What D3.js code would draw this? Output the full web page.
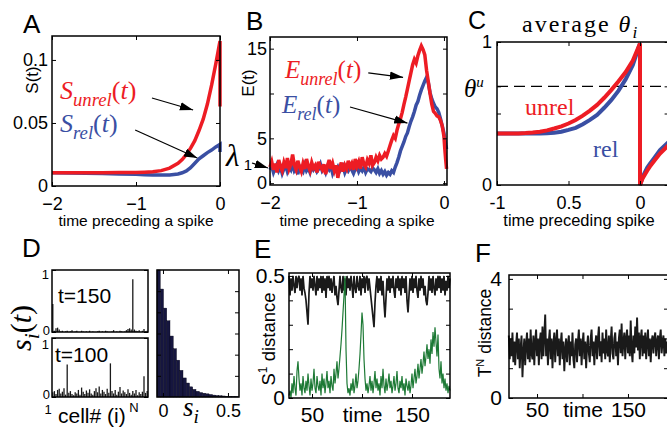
<!DOCTYPE html>
<html>
<head>
<meta charset="utf-8">
<script src="https://cdn.jsdelivr.net/npm/d3@7"></script>
<style>
body{margin:0;background:#fff;}
.math{font-family:"Liberation Serif","Times New Roman",serif;}
</style>
</head>
<body>
<div id="fig"></div>
<script>
// ---- panel A : S(t) ----
var aTime  = [-2,-1.8,-1.6,-1.4,-1.2,-1.0,-0.9,-0.8,-0.7,-0.6,-0.5,-0.45,-0.4,-0.35,-0.3,-0.25,-0.2,-0.15,-0.1,-0.05,0,0];
var aUnrel = [0.0105,0.0105,0.0106,0.0106,0.0107,0.0108,0.011,0.0113,0.0122,0.0142,0.018,0.021,0.025,0.030,0.036,0.044,0.053,0.065,0.080,0.097,0.115,0.063];
var aRel   = [0.0105,0.0103,0.0101,0.0099,0.0096,0.0093,0.009,0.0088,0.0087,0.0088,0.0095,0.0105,0.012,0.0145,0.018,0.0215,0.024,0.0265,0.0285,0.031,0.033,0.027];

// ---- panel B : E(t), sampled every 0.02 from -2 to 0, then 0.01..0.03 ----
var bExtraTime = [0.01,0.02,0.03];
var bUnrel = [1.8,2.4,1.5,2.2,1.2,2.6,1.9,1.4,2.3,1.7,
  2.8,1.6,2.1,3.2,2.0,1.5,2.5,1.8,1.3,2.2,
  1.6,2.7,1.9,1.4,2.3,1.7,2.0,1.2,2.4,1.8,
  1.5,2.1,1.0,1.9,2.6,1.6,2.2,1.4,2.0,0.6,
  1.7,2.3,1.3,2.0,1.6,2.5,1.8,2.2,1.5,2.7,
  1.9,2.4,1.6,2.9,2.1,1.8,2.6,2.2,3.1,2.0,
  2.3,2.9,2.5,3.1,2.7,2.9,3.3,3.0,3.6,4.2,
  4.8,5.3,5.0,5.9,6.6,7.2,7.9,8.8,9.6,10.5,
  11.4,12.3,13.2,13.8,13.4,14.2,14.8,15.3,14.9,14.3,
  12.6,11.3,10.0,8.8,8.0,7.8,7.5,7.4,7.0,6.4,
  5.2,3.8,2.6,1.6];
var bRel = [1.5,1.9,1.2,1.7,2.1,1.4,1.8,1.1,1.6,2.0,
  1.3,1.8,1.5,2.2,1.4,1.7,1.0,1.9,1.6,1.3,
  2.0,1.4,1.7,1.2,1.9,1.5,1.8,1.3,1.6,2.1,
  1.4,1.7,1.2,1.8,1.5,1.9,1.1,1.6,1.4,1.8,
  1.3,1.6,1.9,1.2,1.7,1.4,1.8,1.5,1.1,1.6,
  1.9,1.3,1.7,1.4,1.8,1.2,1.6,1.5,1.3,1.7,
  1.5,1.2,1.6,1.1,1.4,1.0,1.3,0.9,1.2,1.0,
  1.4,1.2,1.8,2.3,2.9,3.6,4.1,4.6,5.2,5.6,
  6.3,6.9,7.4,8.0,8.7,9.1,9.8,10.4,10.9,11.4,
  11.8,11.2,10.1,9.4,8.9,8.5,8.3,7.9,7.2,6.4,
  5.6,4.9,4.3,3.8];

// ---- panel C : average theta ----
var cTime  = [-1,-0.95,-0.9,-0.85,-0.8,-0.75,-0.7,-0.65,-0.6,-0.55,-0.5,-0.45,-0.4,-0.35,-0.3,-0.25,-0.2,-0.15,-0.1,-0.05,0,0,0.02,0.05,0.07,0.1,0.14,0.2];
var cUnrel = [0.36,0.36,0.36,0.361,0.363,0.367,0.373,0.382,0.395,0.41,0.43,0.455,0.485,0.52,0.56,0.61,0.665,0.725,0.79,0.87,0.99,0,0.05,0.10,0.13,0.17,0.22,0.28];
var cRel   = [0.36,0.36,0.36,0.36,0.36,0.36,0.36,0.362,0.365,0.372,0.385,0.40,0.425,0.455,0.49,0.54,0.595,0.66,0.74,0.84,0.99,0,0.06,0.12,0.15,0.19,0.245,0.30];
var thetaU = 0.69;

// ---- panel D : s_i(t) per cell, and histogram of s_i ----
var dT150 = [0.45,0.02,0.06,0.07,0.04,0.01,0.02,0.00,0.01,0.02,
  0.00,0.01,0.03,0.00,0.01,0.02,0.00,0.00,0.02,0.01,
  0.00,0.01,0.00,0.02,0.00,0.01,0.00,0.00,0.01,0.02,
  0.00,0.01,0.00,0.02,0.01,0.00,0.00,0.01,0.03,0.00,
  0.01,0.00,0.02,0.01,0.00,0.01,0.03,0.05,0.06,0.04,
  0.85,0.04,0.02,0.01,0.03,0.00,0.02,0.05,0.01,0.02];
var dT100 = [0.08,0.10,0.05,0.12,0.14,0.06,0.09,0.15,0.04,0.55,
  0.07,0.10,0.05,0.03,0.08,0.06,0.12,0.04,0.16,0.09,
  0.05,0.11,0.07,0.13,0.06,0.04,0.10,0.15,0.08,0.18,
  0.06,0.12,0.09,0.05,0.14,0.07,0.57,0.10,0.06,0.12,
  0.04,0.09,0.17,0.06,0.11,0.08,0.05,0.13,0.07,0.04,
  0.10,0.06,0.12,0.03,0.08,0.05,0.09,0.35,0.07,0.10];
var histStart = -0.046, histWidth = 0.025;
var histCounts = [1.0,0.85,0.70,0.60,0.48,0.38,0.29,0.21,0.15,0.11,0.08,0.06,0.045,0.035,0.03,0.025,0.02,0.015,0.012,0.01,0.008,0.006,0.005,0.004,0.003];

// ---- panel E : S1 distance, t = 27..188 ----
var eStart = 27;
var eBlack = [0.50,0.42,0.49,0.44,0.50,0.46,0.43,0.50,0.45,0.49,
  0.50,0.44,0.49,0.42,0.50,0.45,0.43,0.40,0.35,0.30,
  0.43,0.50,0.45,0.49,0.44,0.50,0.46,0.42,0.50,0.44,
  0.49,0.45,0.50,0.43,0.50,0.44,0.49,0.41,0.50,0.45,
  0.50,0.44,0.49,0.43,0.47,0.50,0.42,0.46,0.41,0.38,
  0.44,0.50,0.45,0.43,0.50,0.44,0.49,0.42,0.50,0.45,
  0.49,0.44,0.50,0.46,0.41,0.50,0.45,0.43,0.50,0.46,
  0.44,0.50,0.42,0.49,0.45,0.50,0.43,0.49,0.50,0.44,
  0.49,0.45,0.41,0.37,0.33,0.29,0.39,0.46,0.50,0.43,
  0.49,0.44,0.50,0.42,0.48,0.39,0.33,0.41,0.49,0.44,
  0.50,0.43,0.49,0.45,0.50,0.44,0.41,0.49,0.45,0.50,
  0.44,0.49,0.42,0.50,0.45,0.49,0.43,0.50,0.40,0.35,
  0.42,0.49,0.44,0.50,0.43,0.49,0.45,0.50,0.44,0.41,
  0.49,0.44,0.50,0.45,0.49,0.42,0.46,0.40,0.38,0.43,
  0.50,0.44,0.49,0.43,0.50,0.45,0.42,0.49,0.44,0.50,
  0.45,0.50,0.43,0.49,0.44,0.50,0.42,0.48,0.44,0.50,
  0.45,0.49];
var eGreen = [0.01,0.03,0.00,0.06,0.02,0.09,0.04,0.01,0.11,0.15,
  0.08,0.03,0.06,0.01,0.09,0.04,0.02,0.07,0.03,0.10,
  0.05,0.01,0.08,0.03,0.06,0.12,0.04,0.02,0.09,0.05,
  0.03,0.07,0.01,0.10,0.04,0.08,0.02,0.06,0.11,0.04,
  0.07,0.02,0.09,0.05,0.03,0.12,0.06,0.10,0.15,0.08,
  0.12,0.17,0.22,0.28,0.35,0.42,0.50,0.20,0.06,0.02,
  0.04,0.01,0.06,0.03,0.08,0.02,0.05,0.10,0.04,0.07,
  0.12,0.18,0.26,0.35,0.30,0.16,0.08,0.03,0.06,0.02,
  0.05,0.09,0.03,0.07,0.02,0.06,0.11,0.04,0.08,0.03,
  0.06,0.01,0.09,0.04,0.12,0.05,0.02,0.08,0.03,0.06,
  0.10,0.04,0.07,0.02,0.05,0.09,0.03,0.06,0.11,0.04,
  0.02,0.07,0.04,0.09,0.03,0.06,0.01,0.08,0.05,0.03,
  0.07,0.02,0.05,0.10,0.04,0.08,0.12,0.06,0.09,0.14,
  0.08,0.12,0.16,0.10,0.14,0.19,0.13,0.17,0.22,0.16,
  0.20,0.14,0.24,0.18,0.27,0.21,0.29,0.23,0.17,0.26,
  0.12,0.08,0.15,0.06,0.10,0.04,0.08,0.03,0.06,0.02,
  0.05,0.03];

// ---- panel F : T^N distance, t = 19..193 ----
var fStart = 19;
var fDist = [2.1,1.3,2.0,1.4,2.2,1.2,1.9,1.1,1.8,2.2,
  1.3,2.0,1.0,1.7,2.1,0.7,1.5,2.0,1.1,1.8,
  2.2,1.3,2.0,1.2,2.3,1.5,1.3,2.1,1.1,1.9,
  2.3,1.4,2.0,1.1,1.9,2.2,1.3,2.4,1.4,2.1,
  2.8,1.4,2.0,1.1,1.9,2.3,1.3,2.0,1.0,1.8,
  2.2,1.2,1.9,2.3,1.4,2.0,1.1,1.8,2.2,1.3,
  1.9,0.9,1.6,2.0,1.2,1.8,2.1,1.1,1.9,1.4,
  2.2,1.3,1.0,1.8,2.0,1.2,1.9,2.3,1.4,2.0,
  1.1,1.8,2.2,1.3,1.9,1.0,1.7,2.1,1.5,1.2,
  2.0,2.3,1.4,1.9,1.1,1.8,2.1,1.3,2.0,2.4,
  1.4,1.9,1.2,2.2,1.5,2.0,1.3,2.3,1.6,1.4,
  2.1,1.2,1.9,2.4,1.5,1.3,2.0,2.2,1.4,1.9,
  1.1,2.0,2.3,1.5,2.5,1.4,1.9,2.2,1.3,2.0,
  2.3,1.5,2.1,1.4,2.6,1.6,1.2,2.1,1.5,2.4,
  1.7,2.7,1.6,2.2,1.3,2.0,2.3,1.4,2.1,1.5,
  2.2,1.3,1.9,2.3,1.4,2.0,1.2,1.9,2.1,1.5,
  2.0,2.2,1.4,1.9,2.1,1.3,2.0,2.3,1.5,1.9,
  2.1,1.4,2.0,1.5,1.9];

var red = "#ed1c24", blue = "#3a4fa3", green = "#1e7a36", ink = "#1a1a1a";
var sans = "'Liberation Sans', Arial, Helvetica, sans-serif";

var svg = d3.select("#fig").append("svg")
            .attr("width", 667)
            .attr("height", 428)
            .attr("font-family", sans);

svg.append("defs").append("marker")
   .attr("id", "head")
   .attr("viewBox", "0 0 10 10")
   .attr("refX", 10).attr("refY", 5)
   .attr("markerWidth", 11).attr("markerHeight", 11)
   .attr("orient", "auto")
   .append("path").attr("d", "M0,1.8 L10,5 L0,8.2 Z").attr("fill", "#000");

// frame with inward ticks on all four sides (matlab "box on")
function box(x, y, o) {
	var g = svg.append("g");
	var xr = x.range(), yr = y.range();
	g.append("g").attr("transform", "translate(0," + yr[0] + ")")
	 .call(d3.axisBottom(x).tickValues(o.xt).tickSize(-4).tickPadding(o.xpad || 8).tickFormat(o.xf))
	 .attr("font-size", o.fs).attr("font-family", sans);
	g.append("g").attr("transform", "translate(0," + yr[1] + ")")
	 .call(d3.axisTop(x).tickValues(o.xt).tickSize(-4).tickFormat(""));
	g.append("g").attr("transform", "translate(" + xr[0] + ",0)")
	 .call(d3.axisLeft(y).tickValues(o.yt).tickSize(-4).tickPadding(o.ypad || 4).tickFormat(o.yf))
	 .attr("font-size", o.yfs || o.fs).attr("font-family", sans);
	g.append("g").attr("transform", "translate(" + xr[1] + ",0)")
	 .call(d3.axisRight(y).tickValues(o.yt).tickSize(-4).tickFormat(""));
	g.selectAll(".domain").remove();
	g.selectAll(".tick line").attr("stroke", "#000");
	g.selectAll(".tick text").attr("fill", "#000");
	g.append("rect")
	 .attr("x", xr[0]).attr("y", yr[1])
	 .attr("width", xr[1] - xr[0]).attr("height", yr[0] - yr[1])
	 .attr("fill", "none").attr("stroke", "#000").attr("stroke-width", 1.5);
	return g;
}

// text with italic / sub / sup parts
function mtext(x, y, parts, fs, color, rot) {
	var t = svg.append("text").attr("class", "math").attr("fill", color).attr("font-size", fs);
	if (rot) {
		t.attr("transform", "translate(" + x + "," + y + ") rotate(-90)").attr("text-anchor", "middle");
	} else {
		t.attr("x", x).attr("y", y);
	}
	var shift = 0;
	parts.forEach(function(p){
		var s = t.append("tspan").text(p.t);
		var want = p.sub ? fs * 0.26 : (p.sup ? -fs * 0.42 : 0);
		s.attr("dy", want - shift);
		shift = want;
		if (p.sub || p.sup) s.attr("font-size", fs * (p.sz || 0.72));
		if (p.it) s.attr("font-style", "italic");
		if (p.sans) s.attr("font-family", sans);
	});
	return t;
}

function label(x, y, txt, fs, rot, anchor) {
	var t = svg.append("text").attr("font-size", fs).attr("fill", "#000").text(txt)
	           .attr("text-anchor", anchor || "middle");
	if (rot) t.attr("transform", "translate(" + x + "," + y + ") rotate(-90)");
	else t.attr("x", x).attr("y", y);
	return t;
}

function arrow(x1, y1, x2, y2) {
	svg.append("line").attr("x1", x1).attr("y1", y1).attr("x2", x2).attr("y2", y2)
	   .attr("stroke", "#000").attr("stroke-width", 1.2).attr("marker-end", "url(#head)");
}

// ================= A =================
var xA = d3.scaleLinear().domain([-2, 0]).range([52, 220]);
var yA = d3.scaleLinear().domain([0, 0.119]).range([186, 36]);
var lineA = d3.line().x(function(d){ return xA(d[0]); }).y(function(d){ return yA(d[1]); });
svg.append("path").datum(aTime.map(function(t, i){ return [t, aRel[i]]; }))
   .attr("d", lineA).attr("fill", "none").attr("stroke", blue).attr("stroke-width", 3.5);
svg.append("path").datum(aTime.map(function(t, i){ return [t, aUnrel[i]]; }))
   .attr("d", lineA).attr("fill", "none").attr("stroke", red).attr("stroke-width", 3.5);
box(xA, yA, {xt: [-2, -1, 0], yt: [0, 0.05, 0.1], fs: 18, xpad: 11,
	xf: d3.format(""), yf: function(d){ return String(d); }});
mtext(60, 99, [{t: "S", it: true}, {t: "unrel", it: true, sub: true}, {t: "("}, {t: "t", it: true}, {t: ")"}], 26, red);
mtext(60, 132, [{t: "S", it: true}, {t: "rel", it: true, sub: true}, {t: "("}, {t: "t", it: true}, {t: ")"}], 26, blue);
arrow(xA(-0.81), yA(0.0698), xA(-0.32), yA(0.0603));
arrow(xA(-1.01), yA(0.0444), xA(-0.27), yA(0.0222));
label(38, 80, "S(t)", 17, true);
label(136, 226, "time preceding a spike", 15.5);
label(23, 33, "A", 26, false, "start");

// ================= B =================
var xB = d3.scaleLinear().domain([-2, 0.035]).range([270, 447]);
var yB = d3.scaleLinear().domain([-0.2, 16.3]).range([185, 37]);
var bTime = d3.range(101).map(function(i){ return -2 + i * 0.02; }).concat(bExtraTime);
var lineB = d3.line().x(function(d){ return xB(d[0]); }).y(function(d){ return yB(d[1]); });
svg.append("path").datum(bTime.map(function(t, i){ return [t, bRel[i]]; }))
   .attr("d", lineB).attr("fill", "none").attr("stroke", blue).attr("stroke-width", 3.5);
svg.append("path").datum(bTime.map(function(t, i){ return [t, bUnrel[i]]; }))
   .attr("d", lineB).attr("fill", "none").attr("stroke", red).attr("stroke-width", 3.5);
box(xB, yB, {xt: [-2, -1, 0], yt: [0, 5, 10, 15], fs: 18, xpad: 11, ypad: 3,
	xf: d3.format(""), yf: function(d){ return d === 10 ? "" : String(d); }});
mtext(285, 78, [{t: "E", it: true}, {t: "unrel", it: true, sub: true}, {t: "("}, {t: "t", it: true}, {t: ")"}], 25, red);
mtext(282, 113, [{t: "E", it: true}, {t: "rel", it: true, sub: true}, {t: "("}, {t: "t", it: true}, {t: ")"}], 25, blue);
arrow(xB(-0.87), yB(12.3), xB(-0.47), yB(11.8));
arrow(xB(-1.08), yB(8.5), xB(-0.42), yB(6.7));
mtext(226, 166, [{t: "λ", it: true}], 31, "#000");
label(248, 170, "1", 15);
arrow(252, 163, 268, 168);
label(254, 83, "E(t)", 17, true);
label(357, 226, "time preceding a spike", 15.5);
label(246, 30, "B", 26, false, "start");

// ================= C =================
var xC = d3.scaleLinear().domain([-1, 0.2]).range([497, 668.6]);
var yC = d3.scaleLinear().domain([0, 1]).range([185, 42]);
var lineC = d3.line().x(function(d){ return xC(d[0]); }).y(function(d){ return yC(d[1]); });
svg.append("line").attr("x1", xC(-1)).attr("x2", xC(0.2)).attr("y1", yC(thetaU)).attr("y2", yC(thetaU))
   .attr("stroke", "#000").attr("stroke-width", 1.2).attr("stroke-dasharray", "11,6");
svg.append("path").datum(cTime.map(function(t, i){ return [t, cRel[i]]; }))
   .attr("d", lineC).attr("fill", "none").attr("stroke", blue).attr("stroke-width", 4);
svg.append("path").datum(cTime.map(function(t, i){ return [t, cUnrel[i]]; }))
   .attr("d", lineC).attr("fill", "none").attr("stroke", red).attr("stroke-width", 4);
box(xC, yC, {xt: [-1, -0.5, 0], yt: [0, 0.5, thetaU, 1], fs: 18, xpad: 11, ypad: 5,
	xf: function(d){ return d === -1 ? "-1" : (d === 0 ? "0" : "0.5"); },
	yf: function(d){ return d === 0 ? "0" : (d === 1 ? "1" : ""); }});
mtext(464, 97, [{t: "θ", it: true}, {t: "u", it: true, sup: true, sz: 0.6}], 25, "#000");
mtext(522, 32, [{t: "average "}, {t: "θ", it: true}, {t: "i", it: true, sub: true}], 24, "#000").attr("letter-spacing", 2);
mtext(525, 115, [{t: "unrel"}], 24, red);
mtext(593, 157, [{t: "rel"}], 24, blue);
label(579, 226, "time preceding spike", 16.5);
label(468, 29, "C", 25, false, "start");

// ================= D =================
var xD = d3.scaleLinear().domain([0.5, 60.5]).range([52, 148]);
var yDu = d3.scaleLinear().domain([0, 1]).range([332, 270]);
var yDl = d3.scaleLinear().domain([0, 1]).range([397, 338]);
function stems(vals, y) {
	svg.append("g").selectAll("line").data(vals).enter().append("line")
	   .attr("x1", function(d, i){ return xD(i + 1); })
	   .attr("x2", function(d, i){ return xD(i + 1); })
	   .attr("y1", y(0))
	   .attr("y2", function(d){ return y(d); })
	   .attr("stroke", ink).attr("stroke-width", 1.3);
}
stems(dT150, yDu);
stems(dT100, yDl);
box(xD, yDu, {xt: [], yt: [0, 1], fs: 13, xf: "", yf: ""});
box(xD, yDl, {xt: [], yt: [0, 1], fs: 13, xf: "", yf: ""});
// matlab squeezed these tick labels, so they sit a little off their ticks
label(49, yDu(1) + 9, "1", 13, false, "end");
label(50, yDu(0) + 3, "0", 13, false, "end");
label(49, yDl(1) + 11, "1", 13, false, "end");
label(50, yDl(0) + 2, "0", 13, false, "end");
label(58, 303, "t=150", 21, false, "start");
label(55, 362, "t=100", 21, false, "start");

var xH = d3.scaleLinear().domain([-0.046, 0.585]).range([157, 239]);
var yH = d3.scaleLinear().domain([0, 1]).range([397, 270]);
svg.append("g").selectAll("rect").data(histCounts).enter().append("rect")
   .attr("x", function(d, i){ return xH(histStart + i * histWidth); })
   .attr("width", xH(histWidth) - xH(0))
   .attr("y", function(d){ return yH(d); })
   .attr("height", function(d){ return yH(0) - yH(d); })
   .attr("fill", "#16163f").attr("stroke", "#08081a").attr("stroke-width", 0.4);
box(xH, yH, {xt: [0, 0.5], yt: [1/6, 2/6, 3/6, 4/6, 5/6], fs: 18, xpad: 7,
	xf: function(d){ return String(d); }, yf: ""});
mtext(183, 416, [{t: "s", it: true}, {t: "i", it: true, sub: true}], 27, "#000");
mtext(31, 328, [{t: "s", it: true}, {t: "i", it: true, sub: true}, {t: "("}, {t: "t", it: true}, {t: ")"}], 30, "#000", true);
label(48, 414, "1", 13);
label(58, 423, "cell# (i)", 21, false, "start");
label(134, 412, "N", 13);
label(22, 257, "D", 26, false, "start");

// ================= E =================
var xE = d3.scaleLinear().domain([27, 188]).range([289, 450]);
var yE = d3.scaleLinear().domain([0, 0.512]).range([398, 273]);
var lineE = d3.line().x(function(d, i){ return xE(eStart + i); }).y(function(d){ return yE(d); });
svg.append("path").datum(eBlack).attr("d", lineE).attr("fill", "none").attr("stroke", ink).attr("stroke-width", 1.7);
svg.append("path").datum(eGreen).attr("d", lineE).attr("fill", "none").attr("stroke", green).attr("stroke-width", 1.2);
box(xE, yE, {xt: [50, 100, 150], yt: [0, 0.1, 0.2, 0.3, 0.4, 0.5], fs: 21, xpad: 9, ypad: 4,
	xf: function(d){ return d === 100 ? "time" : String(d); },
	yf: function(d){ return d === 0 ? "0" : (d === 0.5 ? "0.5" : ""); }});
var eLab = svg.append("text").attr("font-size", 18.5).attr("text-anchor", "middle")
              .attr("transform", "translate(275,339) rotate(-90)");
eLab.append("tspan").text("S");
eLab.append("tspan").text("1").attr("font-size", 12).attr("dy", -8);
eLab.append("tspan").text(" distance").attr("dy", 8);
label(254, 258, "E", 26, false, "start");

// ================= F =================
var xF = d3.scaleLinear().domain([19.2, 194]).range([509, 668]);
var yF = d3.scaleLinear().domain([0, 4.13]).range([398, 275]);
var lineF = d3.line().x(function(d, i){ return xF(fStart + i); }).y(function(d){ return yF(d); });
svg.append("path").datum(fDist).attr("d", lineF).attr("fill", "none").attr("stroke", ink).attr("stroke-width", 1.9);
box(xF, yF, {xt: [50, 100, 150], yt: [0, 1, 2, 3, 4], fs: 21, xpad: 4, ypad: 7,
	xf: function(d){ return d === 100 ? "time" : String(d); },
	yf: function(d){ return d === 0 ? "0" : (d === 4 ? "4" : ""); }});
var fLab = svg.append("text").attr("font-size", 17.5).attr("text-anchor", "middle")
              .attr("transform", "translate(491,333) rotate(-90)");
fLab.append("tspan").text("T");
fLab.append("tspan").text("N").attr("font-size", 11).attr("dy", -7);
fLab.append("tspan").text(" distance").attr("dy", 7);
label(475, 262, "F", 26, false, "start");
</script>
</body>
</html>
